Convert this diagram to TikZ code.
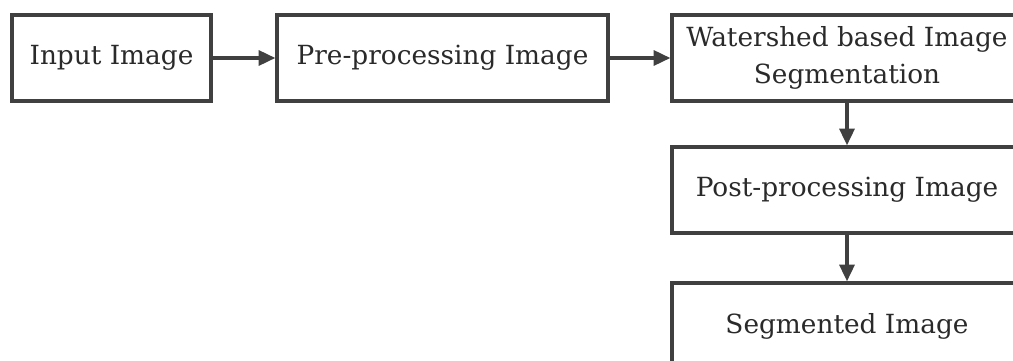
\documentclass[tikz,border=0pt]{standalone}
\usepackage{fontspec}
\setmainfont{DejaVu Serif}
\usetikzlibrary{arrows.meta}

\definecolor{boxgray}{HTML}{404040}
\definecolor{textgray}{HTML}{2A2A2A}

\tikzset{
  stage/.style={draw=boxgray, line width=1.9pt, fill=white, minimum height=1.72cm,
    align=center, text=textgray, font=\fontsize{15}{21.5}\selectfont},
  flow/.style={draw=boxgray, line width=1.9pt, -{Triangle[length=9.5pt,width=8.5pt]}},
}

\begin{document}
\begin{tikzpicture}[x=0.02cm, y=-0.02cm]
\clip (0,0) rectangle (1013,361);
\fill[white] (0,0) rectangle (1013,361);

\node[stage, minimum width=3.98cm] (inimg) at (111.5,58) {Input Image};
\node[stage, minimum width=6.62cm] (preimg) at (442.5,58) {Pre-processing Image};
\node[stage, minimum width=7cm] (wseg) at (847,58) {Watershed based Image\\Segmentation};
\node[stage, minimum width=7cm] (postimg) at (847,190) {Post-processing Image};
\node[stage, minimum width=7cm] (segimg) at (847,326) {Segmented Image};

\draw[flow] (inimg) -- (preimg);
\draw[flow] (preimg) -- (wseg);
\draw[flow] (wseg) -- (postimg);
\draw[flow] (postimg) -- (segimg);
\end{tikzpicture}
\end{document}
